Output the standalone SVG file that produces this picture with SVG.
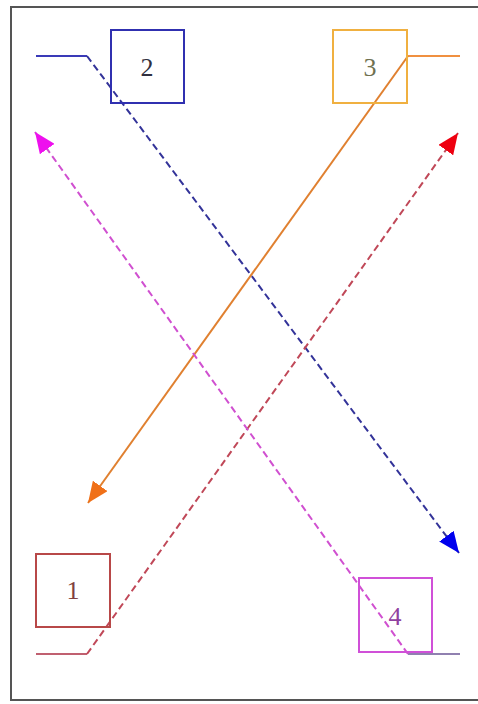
<svg xmlns="http://www.w3.org/2000/svg" width="478" height="704" viewBox="0 0 478 704">
<style>
.box{fill:none;stroke-width:2}
.lbl{font-family:"Liberation Serif","Times New Roman",serif;font-size:26px;text-anchor:middle;dominant-baseline:central}
.conn{fill:none;stroke-width:2}
.dash{stroke-dasharray:7 4}
</style>
<defs>
<marker id="ab" markerUnits="userSpaceOnUse" markerWidth="22" markerHeight="18" refX="21" refY="9" orient="auto"><path d="M0,0 L21,9 L0,18 z" fill="#0000ee"/></marker>
<marker id="ar" markerUnits="userSpaceOnUse" markerWidth="22" markerHeight="18" refX="21" refY="9" orient="auto"><path d="M0,0 L21,9 L0,18 z" fill="#ee0010"/></marker>
<marker id="am" markerUnits="userSpaceOnUse" markerWidth="22" markerHeight="18" refX="21" refY="9" orient="auto"><path d="M0,0 L21,9 L0,18 z" fill="#ee10ee"/></marker>
<marker id="ao" markerUnits="userSpaceOnUse" markerWidth="22" markerHeight="18" refX="21" refY="9" orient="auto"><path d="M0,0 L21,9 L0,18 z" fill="#f07018"/></marker>
</defs>
<rect x="11" y="7" width="480" height="693" fill="#fff" stroke="#555" stroke-width="2"/>
<g id="connectors">
<path class="conn" d="M36,56 L87,56" stroke="#3a3ab8"/>
<path class="conn dash" d="M87,56 L459,553" stroke="#333399" marker-end="url(#ab)"/>
<path class="conn" d="M460,56 L408,56" stroke="#f09040"/>
<path class="conn" d="M408,56 L88,503" stroke="#e08030" marker-end="url(#ao)"/>
<path class="conn" d="M36,654 L87,654" stroke="#c06070"/>
<path class="conn dash" d="M87,654 L458,133" stroke="#c04858" marker-end="url(#ar)"/>
<path class="conn" d="M460,654 L408,654" stroke="#9080b0"/>
<path class="conn dash" d="M408,654 L35,132" stroke="#d050d0" marker-end="url(#am)"/>
</g>
<g id="node2"><rect class="box" x="111" y="30" width="73" height="73" stroke="#3030b0"/><text class="lbl" x="147" y="67" fill="#303040">2</text></g>
<g id="node3"><rect class="box" x="333" y="30" width="74" height="73" stroke="#f0b040"/><text class="lbl" x="370" y="67" fill="#707050">3</text></g>
<g id="node1"><rect class="box" x="36" y="554" width="74" height="73" stroke="#b84848"/><text class="lbl" x="73" y="590" fill="#804040">1</text></g>
<g id="node4"><rect class="box" x="359" y="578" width="73" height="74" stroke="#d050d8"/><text class="lbl" x="395" y="616" fill="#9040a0">4</text></g>
</svg>
